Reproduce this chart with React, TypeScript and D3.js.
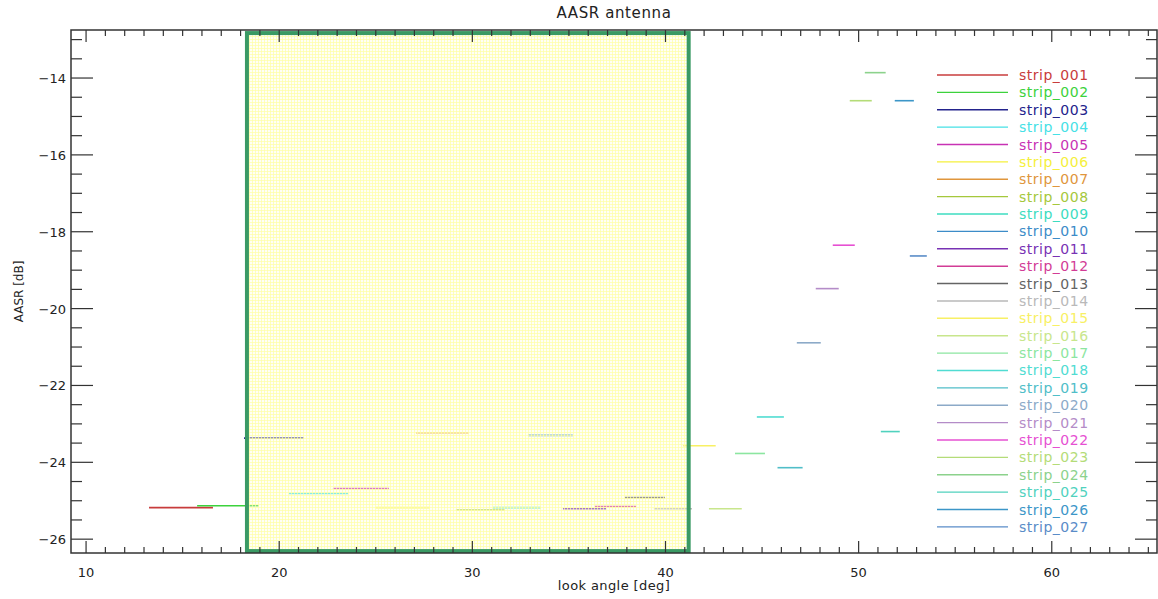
import React from "react";
import * as d3 from "d3";

const strips = [
  "strip_001","strip_002","strip_003","strip_004","strip_005","strip_006","strip_007","strip_008","strip_009",
  "strip_010","strip_011","strip_012","strip_013","strip_014","strip_015","strip_016","strip_017","strip_018",
  "strip_019","strip_020","strip_021","strip_022","strip_023","strip_024","strip_025","strip_026","strip_027",
];
const lookStart = [13.26,15.75,18.18,20.51,22.78,25.0,27.08,29.15,31.07,32.88,34.69,36.35,37.9,39.4,40.9,42.25,43.6,44.73,45.8,46.8,47.78,48.66,49.54,50.32,51.15,51.87,52.65];
const lookEnd = [16.57,18.95,21.28,23.56,25.68,27.8,29.82,31.69,33.55,35.2,36.92,38.47,39.97,41.37,42.6,43.95,45.15,46.13,47.1,48.04,48.97,49.8,50.68,51.4,52.13,52.86,53.53];
const aasr = [-25.18,-25.13,-23.37,-24.81,-24.68,-25.18,-23.23,-25.24,-25.18,-23.3,-25.21,-25.15,-24.92,-25.21,-23.57,-25.21,-23.77,-22.82,-24.14,-20.89,-19.48,-18.35,-14.59,-13.86,-23.2,-14.59,-18.63];
const colors = [
  "#c83c3c","#3cd23c","#23238c","#46e1e6","#c832b4","#f5f03c","#e0963c","#a5c83c","#3cdcc0",
  "#3c8cc8","#7832b4","#d23c96","#646464","#b9b9b9","#f8f064","#c8e68c","#8ce6a0","#50dcd2",
  "#50bec8","#8caac8","#b48cc8","#e650d2","#b4dc78","#8cd28c","#50d2be","#3c96c8","#5a8cc8",
];
const xTicks = [10, 20, 30, 40, 50, 60];
const yTicks = [-14, -16, -18, -20, -22, -24, -26];
const highlightX = [18.33, 41.2];
const highlightY = [-12.83, -26.31];

const W = 1158, H = 599;
const L = 71, R = 1157, T = 30, B = 553;
const FONT = "'DejaVu Sans', sans-serif";

export default function App() {
  const x = d3.scaleLinear().domain([9.22, 65.5]).range([L, 1158]);
  const y = d3.scaleLinear().domain([-12.75, -26.36]).range([T, B]);

  const xMinor = d3.range(10, 66, 1).filter((v) => x(v) <= R);
  const yMinor = d3.range(-13, -26.01, -0.5);

  const legY = (i: number) => 75 + i * 17.38;

  return (
    <svg width={W} height={H} style={{ position: "absolute", left: 0, top: 0, background: "#fff" }}>
      <defs>
        <pattern id="grid" width="3" height="3" patternUnits="userSpaceOnUse">
          <rect width="3" height="3" fill="rgba(255,255,230,0.35)" />
          <path d="M0,0.5H3M0.5,0V3" stroke="rgba(255,255,165,0.7)" strokeWidth="1" />
        </pattern>
      </defs>
      <text x={(L + R) / 2} y={18} textAnchor="middle" fontFamily={FONT} fontSize={15} letterSpacing={0.6} fill="#222">AASR antenna</text>

      {strips.map((s, i) => (
        <line key={s} x1={x(lookStart[i])} x2={x(lookEnd[i])} y1={y(aasr[i])} y2={y(aasr[i])} stroke={colors[i]} strokeWidth={1.6} />
      ))}

      <rect
        x={x(highlightX[0])}
        y={y(highlightY[0])}
        width={x(highlightX[1]) - x(highlightX[0])}
        height={y(highlightY[1]) - y(highlightY[0])}
        fill="url(#grid)"
        stroke="#3a9a64"
        strokeWidth={4}
      />

      {/* frame */}
      <rect x={L} y={T} width={R - L} height={B - T} fill="none" stroke="#333" strokeWidth={1.5} />

      {/* x ticks */}
      {xMinor.map((v) => {
        const major = xTicks.includes(v);
        const len = major ? 12 : 6;
        return (
          <g key={"xt" + v}>
            <line x1={x(v)} x2={x(v)} y1={B} y2={B - len} stroke="#333" strokeWidth={1.2} />
            <line x1={x(v)} x2={x(v)} y1={T} y2={T + len} stroke="#333" strokeWidth={1.2} />
          </g>
        );
      })}
      {xTicks.map((v) => (
        <text key={"xl" + v} x={x(v)} y={577} textAnchor="middle" fontFamily={FONT} fontSize={13} fill="#222">{v}</text>
      ))}

      {/* y ticks */}
      {yMinor.map((v) => {
        const major = yTicks.some((t) => Math.abs(t - v) < 1e-6);
        const len = major ? 22 : 11;
        return (
          <g key={"yt" + v}>
            <line x1={L} x2={L + len} y1={y(v)} y2={y(v)} stroke="#333" strokeWidth={1.2} />
            <line x1={R} x2={R - len} y1={y(v)} y2={y(v)} stroke="#333" strokeWidth={1.2} />
          </g>
        );
      })}
      {yTicks.map((v) => (
        <text key={"yl" + v} x={66} y={y(v) + 5} textAnchor="end" fontFamily={FONT} fontSize={13} fill="#222">{"\u2212" + Math.abs(v)}</text>
      ))}

      <text x={(L + R) / 2} y={590} textAnchor="middle" fontFamily={FONT} fontSize={13} letterSpacing={0.4} fill="#222">look angle [deg]</text>
      <text transform={`translate(23,${(T + B) / 2}) rotate(-90)`} textAnchor="middle" fontFamily={FONT} fontSize={12} fill="#222">AASR [dB]</text>

      {/* legend */}
      {strips.map((s, i) => (
        <g key={"lg" + s}>
          <line x1={937} x2={1008} y1={legY(i)} y2={legY(i)} stroke={colors[i]} strokeWidth={1.4} />
          <text x={1019} y={legY(i) + 5} fontFamily={FONT} fontSize={14} letterSpacing={0.5} fill={colors[i]}>{s}</text>
        </g>
      ))}
    </svg>
  );
}
